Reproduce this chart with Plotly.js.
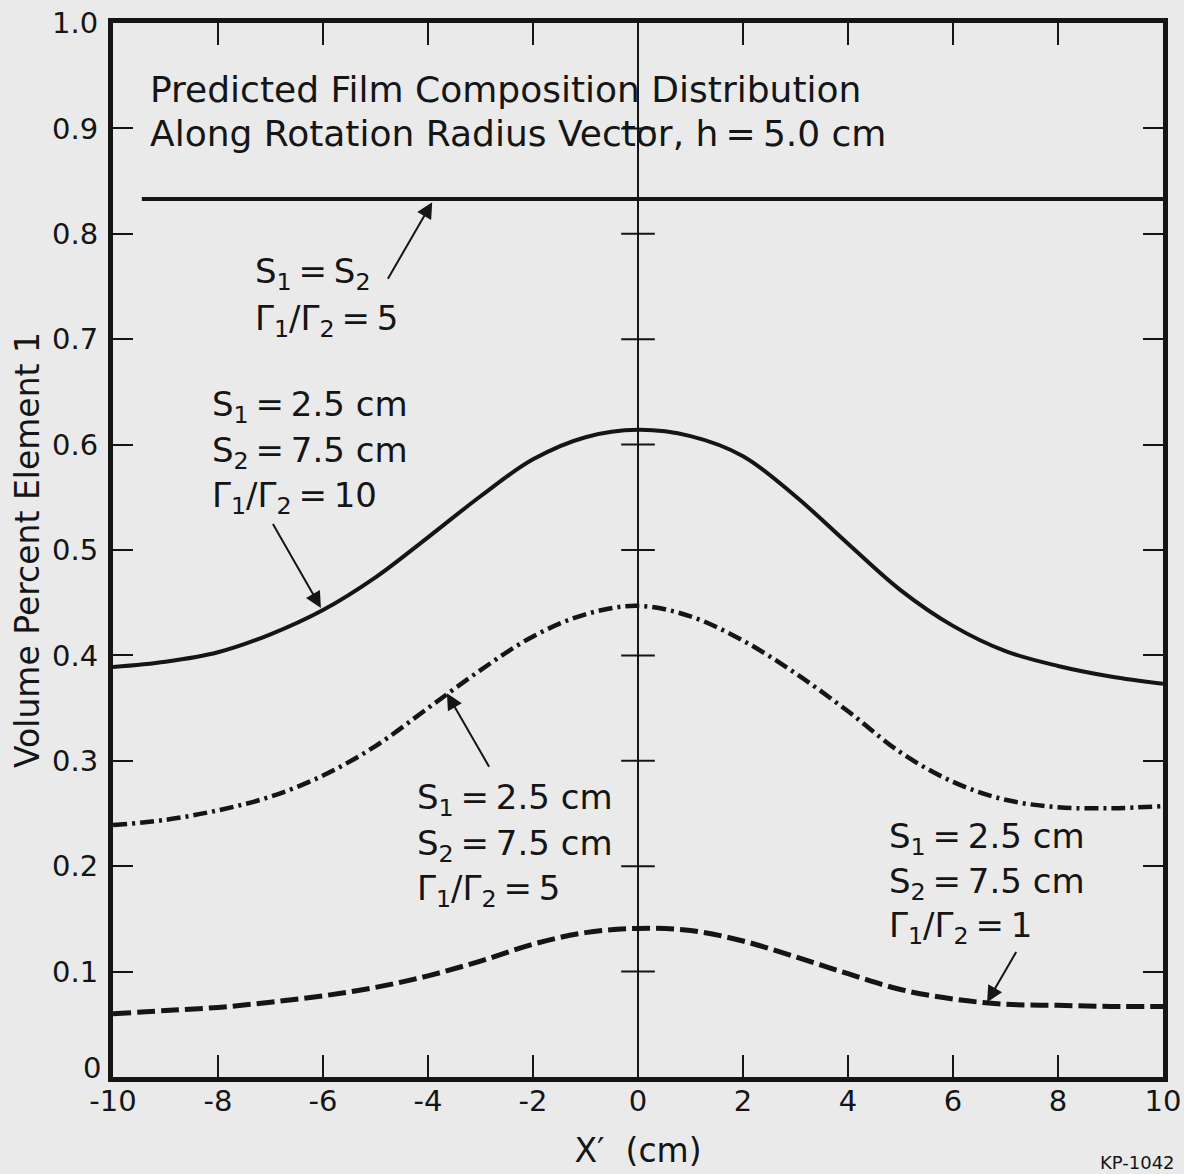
<!DOCTYPE html>
<html>
<head>
<meta charset="utf-8">
<script src="https://cdn.plot.ly/plotly-3.0.1.min.js"></script>
<style>
  html, body { margin: 0; padding: 0; background: #eaeaea; }
  #chart { width: 1184px; height: 1174px; }
</style>
</head>
<body>
<div id="chart"></div>
<script>
// ---- data ----
const xTickVals = [-10, -8, -6, -4, -2, 0, 2, 4, 6, 8, 10];
const xTickText = ["-10", "-8", "-6", "-4", "-2", "0", "2", "4", "6", "8", "10"];
const yTickVals = [0, 0.1, 0.2, 0.3, 0.4, 0.5, 0.6, 0.7, 0.8, 0.9, 1.0];
const yTickText = ["0", "0.1", "0.2", "0.3", "0.4", "0.5", "0.6", "0.7", "0.8", "0.9", "1.0"];

// S1 = S2, Gamma1/Gamma2 = 5 (flat solid line)
const xEqual = [-9.45, 10];
const yEqual = [0.833, 0.833];

// common sample positions for the three curves
const xCurve = [-10, -9, -8, -7, -6, -5, -4, -3, -2, -1, 0, 1, 2, 3, 4, 5, 6, 7, 8, 9, 10];
// S1 = 2.5 cm, S2 = 7.5 cm, Gamma1/Gamma2 = 10 (solid)
const yRatio10 = [0.389, 0.394, 0.403, 0.420, 0.443, 0.474, 0.512, 0.551, 0.586, 0.607, 0.614, 0.608, 0.589, 0.551, 0.506, 0.462, 0.428, 0.404, 0.390, 0.380, 0.373];
// S1 = 2.5 cm, S2 = 7.5 cm, Gamma1/Gamma2 = 5 (dash-dot)
const yRatio5 = [0.239, 0.244, 0.253, 0.266, 0.286, 0.314, 0.350, 0.386, 0.418, 0.439, 0.447, 0.437, 0.414, 0.383, 0.347, 0.308, 0.280, 0.263, 0.256, 0.255, 0.257];
// S1 = 2.5 cm, S2 = 7.5 cm, Gamma1/Gamma2 = 1 (dashed)
const yRatio1 = [0.060, 0.063, 0.066, 0.071, 0.077, 0.085, 0.096, 0.110, 0.126, 0.137, 0.141, 0.139, 0.129, 0.114, 0.098, 0.083, 0.074, 0.069, 0.068, 0.067, 0.067];

// centre vertical reference line with cross ticks
const xCentre = [0, 0];
const yCentre = [0, 1];
const yCentreTicks = [0.1, 0.2, 0.3, 0.4, 0.5, 0.6, 0.7, 0.8, 0.9];

// text blocks
const titleLines = ["Predicted Film Composition Distribution", "Along Rotation Radius Vector, h\u2009=\u20095.0 cm"];
const labelEqual = ["S<sub>1</sub>\u2009=\u2009S<sub>2</sub>", "Γ<sub>1</sub>/Γ<sub>2</sub>\u2009=\u20095"];
const label10 = ["S<sub>1</sub>\u2009=\u20092.5 cm", "S<sub>2</sub>\u2009=\u20097.5 cm", "Γ<sub>1</sub>/Γ<sub>2</sub>\u2009=\u200910"];
const label5 = ["S<sub>1</sub>\u2009=\u20092.5 cm", "S<sub>2</sub>\u2009=\u20097.5 cm", "Γ<sub>1</sub>/Γ<sub>2</sub>\u2009=\u20095"];
const label1 = ["S<sub>1</sub>\u2009=\u20092.5 cm", "S<sub>2</sub>\u2009=\u20097.5 cm", "Γ<sub>1</sub>/Γ<sub>2</sub>\u2009=\u20091"];

// ---- styling ----
const INK = "#151515";
const FONT = "'DejaVu Sans', sans-serif";

const traces = [
  { x: xCentre, y: yCentre, mode: "lines", line: { color: INK, width: 2 }, hoverinfo: "skip" },
  { x: yCentreTicks.map(() => 0), y: yCentreTicks, mode: "markers",
    marker: { symbol: "line-ew", size: 24, line: { color: INK, width: 2 } }, hoverinfo: "skip" },
  { x: xEqual, y: yEqual, mode: "lines", line: { color: INK, width: 4 } },
  { x: xCurve, y: yRatio10, mode: "lines", line: { color: INK, width: 4, shape: "spline", smoothing: 1 } },
  { x: xCurve, y: yRatio5, mode: "lines", line: { color: INK, width: 4.5, shape: "spline", smoothing: 1, dash: "14px,5px,3px,5px" } },
  { x: xCurve, y: yRatio1, mode: "lines", line: { color: INK, width: 5, shape: "spline", smoothing: 1, dash: "18px,6px" } }
];

function block(lines, x, y, spacing, size) {
  return lines.map((t, i) => ({
    text: t, x: x, y: y, yshift: -i * spacing, xref: "x", yref: "y",
    xanchor: "left", yanchor: "middle", align: "left", showarrow: false,
    font: { family: FONT, size: size, color: INK }
  }));
}
function arrow(hx, hy, tx, ty) {
  return { text: "", x: hx, y: hy, ax: tx, ay: ty, xref: "x", yref: "y", axref: "x", ayref: "y",
           showarrow: true, arrowhead: 2, arrowsize: 1.6, arrowwidth: 2, arrowcolor: INK,
           standoff: 0, startstandoff: 0 };
}

const annotations = [].concat(
  block(titleLines, -9.33, 0.937, 44, 36),
  block(labelEqual, -7.33, 0.762, 47, 34),
  block(label10, -8.15, 0.636, 45.5, 34),
  block(label5, -4.25, 0.263, 45.5, 34),
  block(label1, 4.74, 0.226, 44.5, 34),
  [
    arrow(-3.92, 0.830, -4.78, 0.756),
    arrow(-6.04, 0.445, -6.97, 0.526),
    arrow(-3.64, 0.364, -2.82, 0.293),
    arrow(6.65, 0.071, 7.22, 0.120),
    // the "0" label of the y axis sits a little above its tick in the reference
    { text: yTickText[0], xref: "paper", yref: "y", x: 0, y: yTickVals[0], xanchor: "right", yanchor: "middle",
      xshift: -10, yshift: 9, showarrow: false, font: { family: FONT, size: 29, color: INK } },
    { text: "KP-1042", xref: "paper", yref: "paper", x: 1.0133, y: -0.069, xanchor: "right", yanchor: "top",
      showarrow: false, font: { family: FONT, size: 18, color: INK } }
  ]
);

const layout = {
  width: 1184, height: 1174,
  margin: { l: 113, r: 21, t: 23, b: 97, pad: 0 },
  paper_bgcolor: "#eaeaea",
  plot_bgcolor: "#eaeaea",
  showlegend: false,
  font: { family: FONT, color: INK },
  xaxis: {
    range: [-10, 10], tickvals: xTickVals, ticktext: xTickText,
    showgrid: false, zeroline: false,
    showline: true, linewidth: 5, linecolor: INK, mirror: "ticks",
    ticks: "inside", ticklen: 22, tickwidth: 2, tickcolor: INK,
    tickfont: { family: FONT, size: 29, color: INK },
    ticklabelstandoff: -6,
    title: { text: "X′  (cm)", font: { family: FONT, size: 33, color: INK }, standoff: 24 }
  },
  yaxis: {
    range: [0, 1], tickvals: yTickVals, ticktext: yTickText.map((t, i) => i === 0 ? "" : t),
    showgrid: false, zeroline: false,
    showline: true, linewidth: 5, linecolor: INK, mirror: "ticks",
    ticks: "inside", ticklen: 20, tickwidth: 2, tickcolor: INK,
    tickfont: { family: FONT, size: 29, color: INK },
    ticklabelstandoff: 4,
    title: { text: "Volume Percent Element 1", font: { family: FONT, size: 33, color: INK }, standoff: 4 }
  },
  annotations: annotations
};

Plotly.newPlot("chart", traces, layout, { displayModeBar: false, staticPlot: true });
</script>
</body>
</html>
